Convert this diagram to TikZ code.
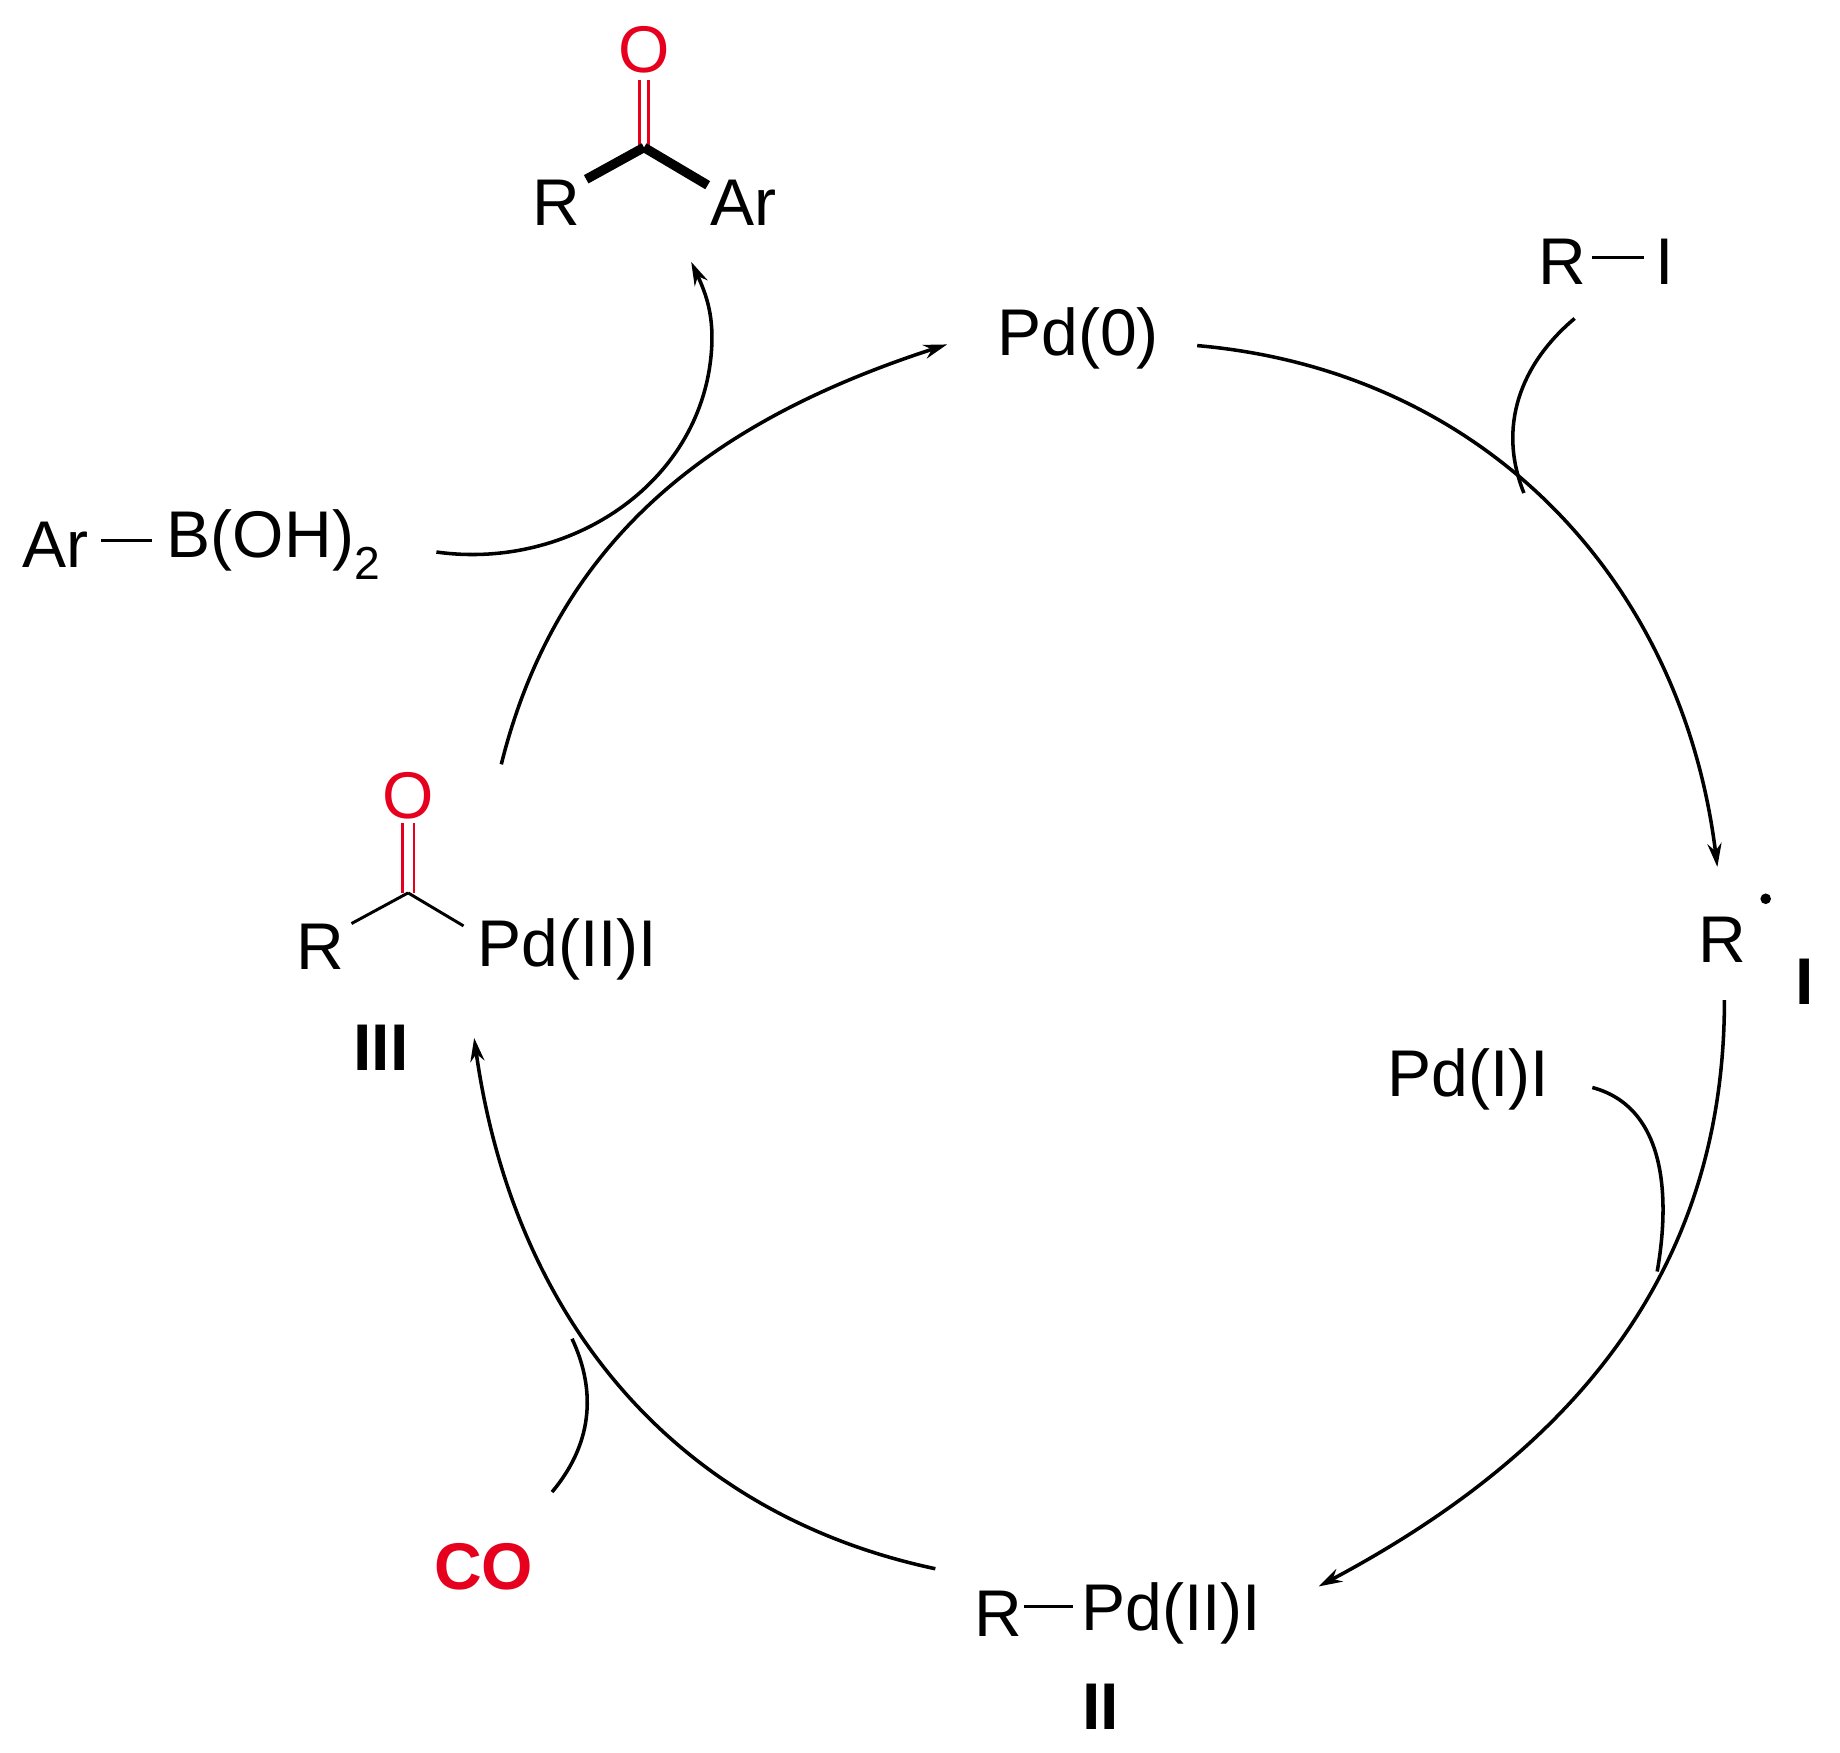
\documentclass[tikz,border=0pt]{standalone}
\usepackage{fontspec}
\setmainfont{Liberation Sans}
\usetikzlibrary{arrows.meta}
\definecolor{cred}{RGB}{230,0,30}
\begin{document}
\begin{tikzpicture}[x=1pt,y=-1pt,
  lab/.style={inner sep=0pt,font=\fontsize{56}{60}\selectfont},
  blab/.style={inner sep=0pt,font=\fontsize{56}{60}\selectfont\bfseries},
  arc/.style={line width=3pt,-{Stealth[length=20pt,width=12pt]}},
  side/.style={line width=3pt},
  bond/.style={line width=2.5pt}]
\useasboundingbox (0,0) rectangle (1560,1486);
% product
\node[lab,text=cred] (pO) at (546,42) {O};
\coordinate (pC) at (546,125);
\node[lab] (pR) at (472,172) {R};
\node[lab] (pAr) at (630,172) {Ar};
\draw[bond,cred] ([xshift=-4pt]pO.south) ++(0,6) -- ([xshift=-4pt]pC);
\draw[bond,cred] ([xshift=4pt]pO.south) ++(0,6) -- ([xshift=4pt]pC);
\draw[line width=8pt] (pC) -- (497,152);
\draw[line width=8pt] (pC) -- (600,157);
% Pd(0)
\node[lab] (pd0) at (914,287) {Pd(0)};
% R-I
\node[lab] (riR) at (1325,222) {R};
\node[lab] (riI) at (1411,222) {I};
\draw[bond] (1350,218) -- (1394,218);
% R dot
\node[lab] (rd) at (1460,797) {R};
\fill (1497,762) circle (4.5);
\node[blab] (l1) at (1530,832) {I};
% Pd(I)I
\node[lab] (pdi) at (1245,915) {Pd(I)I};
% II
\node[lab] (rpR) at (846,1368) {R};
\node[lab] (rpPd) at (993,1368) {Pd(II)I};
\draw[bond] (868,1362) -- (910,1362);
\node[blab] (l2) at (933,1447) {II};
% III
\node[lab,text=cred] (iO) at (346,675) {O};
\coordinate (iC) at (346,757);
\node[lab] (iR) at (272,803) {R};
\node[lab] (iPd) at (481,805) {Pd(II)I};
\draw[bond,cred] (341,698) -- (341,757);
\draw[bond,cred] (351,698) -- (351,757);
\draw[bond] (iC) -- (298,783);
\draw[bond] (iC) -- (393,785);
\node[blab] (l3) at (323,888) {III};
% CO
\node[blab,text=cred] (co) at (410,1328) {CO};
% ArB
\node[lab] (arA) at (47,462) {Ar};
\node[lab] (arB) at (232,462) {B(OH)\textsubscript{2}};
\draw[bond] (86,458) -- (129,458);
% cycle arcs
\draw[arc] (1015,293) to[out=-5,in=97] (1456,735);
\draw[arc] (1462,848) to[out=-90,in=28] (1118,1345);
\draw[arc] (793,1330) to[out=168,in=-82] (402,880);
\draw[arc] (425,648) to[out=76,in=-162] (803,292);
% side arcs
\draw[side] (1335,270) to[out=-140,in=112] (1292,418);
\draw[side] (1350,922) to[out=-15,in=80] (1405,1078);
\draw[side] (468,1265) to[out=50,in=-65] (485,1135);
\draw[arc] (370,468) to[out=-8,in=-95] (603,300) to[out=85,in=-65] (586,222);
\end{tikzpicture}
\end{document}
